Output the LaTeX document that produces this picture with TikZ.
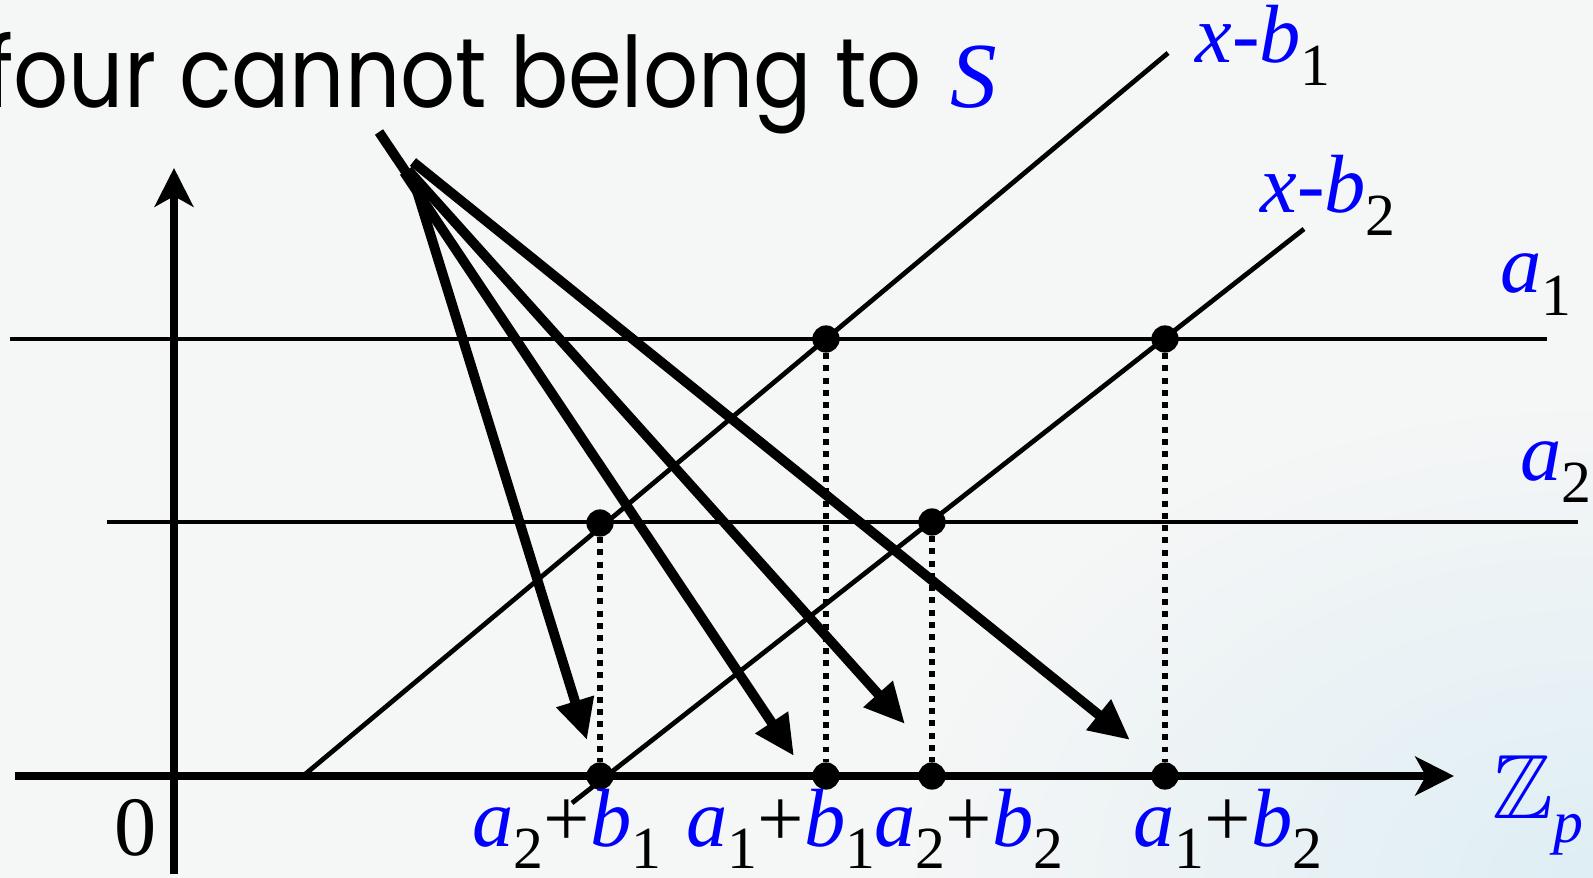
\documentclass[tikz,border=0pt]{standalone}
\usepackage{fontspec}
\setmainfont{Liberation Serif}
\newfontfamily\titlefont{Poppins}
\usepackage{amssymb}
\usetikzlibrary{arrows.meta}
\definecolor{bgc}{RGB}{245,246,246}
\definecolor{bgblue}{RGB}{222,238,244}
\definecolor{lblue}{RGB}{0,0,255}
\newcommand{\bl}[1]{\textcolor{lblue}{\textit{#1}}}
\newcommand{\sbs}[1]{\raisebox{-0.27em}{\fontsize{34}{34}\selectfont #1}}
\begin{document}
\begin{tikzpicture}[x=0.02cm,y=-0.02cm,
  thinline/.style={line width=2.7pt},
  axisline/.style={line width=4.5pt,-{Stealth[length=22pt,width=22pt,inset=6pt]}},
  fanarrow/.style={line width=5.6pt,-{Triangle[length=23pt,width=21pt]}},
  guide/.style={line width=3.4pt,dash pattern=on 3.4pt off 3.6pt},
  dot/.style={circle,fill=black,inner sep=0pt,minimum size=15.5pt},
  lbl/.style={inner sep=0pt,font=\fontsize{47}{47}\selectfont},
]
\useasboundingbox (0,0) rectangle (1593,878);
\fill[bgc] (0,0) rectangle (1593,878);
\clip (0,0) rectangle (1593,878);
\shade[inner color=bgblue,outer color=bgc] (900,400) rectangle (2286,1356);

% title
\node[inner sep=0pt,anchor=base east] (title) at (922,108)
  {\resizebox{533pt}{\height}{\titlefont\fontsize{56}{56}\selectfont four cannot belong to}};
\node[inner sep=0pt,anchor=base west,font=\fontsize{53}{53}\selectfont] (S) at (950,108) {\bl{S}};

% coordinates
\coordinate (xl) at (15,776);
\coordinate (xr) at (1454,776);
\coordinate (yb) at (174,874);
\coordinate (yt) at (174,168);
\coordinate (a1l) at (10,339);
\coordinate (a1r) at (1547,339);
\coordinate (a2l) at (107,522);
\coordinate (a2r) at (1578,522);
\coordinate (b1s) at (303,776);
\coordinate (b1e) at (1168,53);
\coordinate (b2s) at (572,803);
\coordinate (b2e) at (1304,229);

% horizontal lines
\draw[thinline] (a1l) -- (a1r);
\draw[thinline] (a2l) -- (a2r);
% diagonal lines
\draw[thinline] (b1s) -- (b1e);
\draw[thinline] (b2s) -- (b2e);

% axes
\draw[axisline] (xl) -- (xr);
\draw[axisline] (yb) -- (yt);

% dots
\node[dot] (p11) at (826,339) {};
\node[dot] (p12) at (1165,339) {};
\node[dot] (p21) at (600,523) {};
\node[dot] (p22) at (932,522) {};
\node[dot] (q21) at (600,776) {};
\node[dot] (q11) at (826,776) {};
\node[dot] (q22) at (932,776) {};
\node[dot] (q12) at (1165,776) {};

\draw[guide] (p21) -- (q21);
\draw[guide] (p11) -- (q11);
\draw[guide] (p22) -- (q22);
\draw[guide] (p12) -- (q12);

% fan of arrows
\coordinate (stubtop) at (379,132);
\coordinate (stubbot) at (418,190);
\coordinate (s1) at (416,188);
\coordinate (s2) at (404,172);
\coordinate (s3) at (408,170);
\coordinate (s4) at (413,162);
\coordinate (t1) at (587,740);
\coordinate (t2) at (794,756);
\coordinate (t3) at (905,724);
\coordinate (t4) at (1130,740);
\draw[line width=5.6pt] (stubtop) -- (stubbot);
\draw[fanarrow] (s1) -- (t1);
\draw[fanarrow] (s2) -- (t2);
\draw[fanarrow] (s3) -- (t3);
\draw[fanarrow] (s4) -- (t4);

% labels
\node[lbl,anchor=base west] (lxb1) at (1195,63) {\bl{x-b}\sbs{1}};
\node[lbl,anchor=base west] (lxb2) at (1260,213) {\bl{x-b}\sbs{2}};
\node[lbl,anchor=base west] (la1) at (1500,293) {\bl{a}\sbs{1}};
\node[lbl,anchor=base west] (la2) at (1520,480) {\bl{a}\sbs{2}};
\node[lbl,anchor=base west] (l21) at (472,846) {\bl{a}\sbs{2}+\bl{b}\sbs{1}};
\node[lbl,anchor=base west] (l11) at (686,846) {\bl{a}\sbs{1}+\bl{b}\sbs{1}};
\node[lbl,anchor=base west] (l22) at (874,846) {\bl{a}\sbs{2}+\bl{b}\sbs{2}};
\node[lbl,anchor=base west] (l12) at (1133,846) {\bl{a}\sbs{1}+\bl{b}\sbs{2}};
\node[inner sep=0pt,anchor=base west,font=\fontsize{48}{48}\selectfont] (zero) at (114,855) {0};
\node[inner sep=0pt,anchor=base west,font=\fontsize{52}{52}\selectfont] (zp) at (1492,818)
  {\textcolor{lblue}{$\mathbb{Z}$\sbs{\textit{p}}}};
\end{tikzpicture}
\end{document}
